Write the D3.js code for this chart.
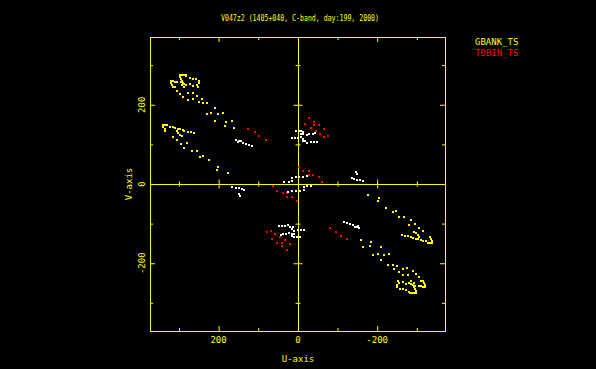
<!DOCTYPE html>
<html>
<head>
<meta charset="utf-8">
<script src="https://cdn.jsdelivr.net/npm/d3@7"></script>
<style>
    body { margin: 0; background: #000; }
    text { font-family: "DejaVu Sans Mono", monospace; font-size: 9px; }
</style>
</head>
<body>
<div class="chart"></div>
<script>
var title = "V047z2 (1405+040, C-band, day:199, 2000)";
var seriesNames = ["GBANK_TS", "TDBIN_TS"];
var uTicks = [300, 200, 100, 0, -100, -200, -300];
var vTicks = [300, 200, 100, 0, -100, -200, -300];
var tickLabels = [200, 0, -200];

// measured (u,v) samples, one half of the plane; the conjugates are plotted too
var gbankTs = [
    [298, 275], [293, 275], [288, 275], [283, 275], [298, 270], [296, 265], [293, 260],
    [281, 272], [273, 267], [265, 265], [258, 265], [250, 260], [250, 255],
    [321, 260], [316, 260], [311, 257], [306, 257], [321, 255], [318, 250], [316, 245], [311, 245],
    [296, 257], [291, 255], [293, 250], [286, 252], [281, 250], [286, 245], [273, 252],
    [265, 247], [255, 250], [253, 245],
    [306, 235], [298, 227], [291, 219], [278, 229], [276, 212], [265, 229], [265, 214],
    [255, 222], [250, 207], [243, 214], [240, 204], [228, 204], [210, 192], [218, 179],
    [230, 177], [202, 177], [190, 179], [210, 159], [182, 156], [165, 159], [185, 146], [160, 141],
    [339, 149], [334, 149], [329, 149], [339, 144], [336, 139], [334, 134], [323, 144],
    [316, 144], [311, 141], [303, 139], [298, 139], [291, 136], [306, 134], [303, 129],
    [286, 134], [278, 131], [270, 131], [263, 129], [298, 124], [293, 121], [316, 119],
    [306, 111], [296, 101], [280, 103], [286, 91], [268, 83], [255, 83], [248, 68],
    [240, 71], [223, 60], [202, 43], [205, 35], [177, 28]
];
var tdbinTs = [
    [125, 139], [109, 131], [97, 121], [81, 111],
    [-27, 166], [-40, 156], [-19, 151], [-40, 149], [-32, 141], [-45, 134], [-57, 126],
    [-65, 139], [-67, 118], [-77, 121], [-52, 149],
    [-2, 43], [-14, 33], [-27, 33], [-27, 23], [-37, 23], [-52, 18], [-62, 5]
];
var otherTs = [
    [155, 111], [152, 106], [149, 108], [144, 108], [139, 103], [132, 101], [124, 98], [117, 96],
    [6, 134], [-2, 134], [-9, 134], [-14, 131],
    [16, 116], [8, 116], [1, 116],
    [-9, 118], [-14, 113], [-19, 108], [-12, 108], [-9, 126], [-14, 126],
    [-22, 124], [-29, 126], [-37, 126], [-42, 129],
    [-24, 103], [-32, 106], [-40, 106], [-47, 106],
    [16, 15], [6, 18], [-4, 18], [-14, 18], [-24, 20], [34, 5], [23, 5], [16, 8],
    [165, -8], [157, -10], [149, -10], [142, -13], [137, -15], [149, -25], [147, -30]
];

var drawChart = function () {
    var yellow = "#ffff00";
    var canvas = d3.select(".chart").append("svg")
        .attr("width", 596)
        .attr("height", 369)
        .style("background", "#000");

    var x = d3.scaleLinear().domain([373, -371]).range([150, 445]);
    var y = d3.scaleLinear().domain([371, -371]).range([37, 331]);
    var x0 = Math.round(x(0)) + 0.5;
    var y0 = Math.round(y(0)) + 0.5;

    var withConjugates = function (pts) {
        return pts.concat(pts.map(function (d) { return [-d[0], -d[1]]; }));
    };

    // frame
    canvas.append("rect")
        .attr("x", 150.5).attr("y", 37.5)
        .attr("width", 295).attr("height", 294)
        .attr("fill", "none").attr("stroke", yellow);
    canvas.append("line")
        .attr("x1", x0).attr("x2", x0).attr("y1", 37).attr("y2", 332)
        .attr("stroke", yellow);
    canvas.append("line")
        .attr("x1", 150).attr("x2", 446).attr("y1", y0).attr("y2", y0)
        .attr("stroke", yellow);

    // ticks, major (labelled) and minor
    var addTicks = function (axisFn, scale, values, size, tx, ty) {
        var g = canvas.append("g")
            .attr("transform", "translate(" + tx + "," + ty + ")")
            .call(axisFn(scale).tickValues(values).tickSize(size).tickFormat(""));
        g.select(".domain").remove();
        g.selectAll("line").attr("stroke", yellow);
    };
    var minorU = uTicks.filter(function (d) { return tickLabels.indexOf(d) < 0; });
    var minorV = vTicks.filter(function (d) { return tickLabels.indexOf(d) < 0; });
    [[tickLabels, 5, 4.5], [minorU, 3, 2.5]].forEach(function (t) {
        addTicks(d3.axisBottom, x, t[0], t[1], 0, 37);
        addTicks(d3.axisTop, x, t[0], t[1], 0, 331);
        addTicks(d3.axisBottom, x, t[0], t[2] * 2, 0, y0 - 0.5 - t[2]);
    });
    [[tickLabels, 5, 4.5], [minorV, 3, 2.5]].forEach(function (t) {
        addTicks(d3.axisRight, y, t[0], t[1], 150, 0);
        addTicks(d3.axisLeft, y, t[0], t[1], 445, 0);
        addTicks(d3.axisRight, y, t[0], t[2] * 2, x0 - 0.5 - t[2], 0);
    });

    // tick labels
    canvas.selectAll("text.ulab")
        .data(tickLabels).enter().append("text")
        .attr("class", "ulab")
        .attr("x", function (d) { return x(d); })
        .attr("y", 343)
        .attr("text-anchor", "middle")
        .attr("fill", yellow)
        .text(function (d) { return String(d); });
    canvas.selectAll("text.vlab")
        .data(tickLabels).enter().append("text")
        .attr("class", "vlab")
        .attr("transform", function (d) { return "translate(145," + y(d) + ") rotate(-90)"; })
        .attr("text-anchor", "middle")
        .attr("fill", yellow)
        .text(function (d) { return String(d); });

    canvas.append("text")
        .attr("x", 298).attr("y", 362)
        .attr("text-anchor", "middle").attr("fill", yellow)
        .text("U-axis");
    canvas.append("text")
        .attr("transform", "translate(132,184) rotate(-90)")
        .attr("text-anchor", "middle").attr("fill", yellow)
        .text("V-axis");
    canvas.append("text")
        .attr("x", 300).attr("y", 21)
        .attr("text-anchor", "middle").attr("fill", yellow)
        .attr("textLength", 158).attr("lengthAdjust", "spacingAndGlyphs")
        .text(title);

    // legend
    var legendColors = [yellow, "#ff0000"];
    canvas.selectAll("text.legend")
        .data(seriesNames).enter().append("text")
        .attr("class", "legend")
        .attr("x", 475)
        .attr("y", function (d, i) { return 45 + i * 10.5; })
        .attr("fill", function (d, i) { return legendColors[i]; })
        .text(function (d) { return d; });

    // uv points
    var drawPoints = function (pts, color) {
        canvas.append("g").selectAll("rect")
            .data(withConjugates(pts))
            .enter()
            .append("rect")
            .attr("x", function (d) { return Math.round(x(d[0])) - 1; })
            .attr("y", function (d) { return Math.round(y(d[1])) - 1; })
            .attr("width", 2)
            .attr("height", 2)
            .attr("shape-rendering", "crispEdges")
            .attr("fill", color);
    };
    drawPoints(gbankTs, yellow);
    drawPoints(tdbinTs, "#ff0000");
    drawPoints(otherTs, "#ffffff");
};

drawChart();
</script>
</body>
</html>
